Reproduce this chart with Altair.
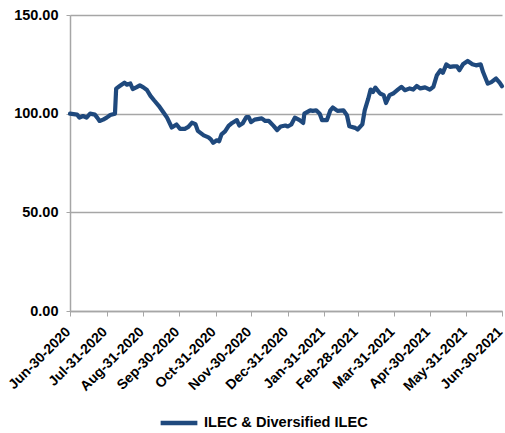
import altair as alt
import pandas as pd

# Index level, read as (days after Jun-30-2020, value)
day_offsets = [0, 6, 8, 11, 14, 17, 21, 23, 25, 28, 31, 34, 38, 39, 42, 46, 48, 51, 53, 56,
               59, 62, 65, 68, 71, 75, 79, 82, 86, 90, 93, 97, 100, 103, 106, 108, 113, 117,
               119, 121, 124, 126, 128, 131, 134, 137, 141, 143, 146, 149, 151, 153, 156, 162,
               165, 168, 172, 175, 178, 182, 184, 187, 190, 194, 197, 198, 203, 205, 208, 211,
               213, 217, 220, 222, 226, 231, 234, 236, 241, 243, 247, 249, 252, 254, 256, 258,
               262, 265, 267, 270, 273, 277, 280, 283, 287, 290, 293, 296, 300, 304, 307, 310,
               313, 315, 318, 321, 324, 327, 329, 332, 336, 340, 343, 347, 349, 353, 356, 360,
               363, 365]
index_values = [100.0, 99.5, 98.0, 98.8, 98.0, 100.0, 99.5, 98.0, 96.3, 97.0, 98.0, 99.3, 100.0,
                112.7, 114.0, 115.7, 114.7, 115.3, 112.5, 113.3, 114.3, 113.3, 112.0, 109.0,
                106.8, 104.0, 100.6, 98.0, 93.0, 94.5, 92.3, 92.3, 93.3, 95.4, 94.7, 91.3, 89.0,
                88.0, 87.0, 85.2, 86.5, 86.0, 89.5, 91.0, 93.8, 95.3, 96.7, 94.0, 95.2, 98.3,
                98.3, 95.7, 97.0, 97.6, 96.3, 96.3, 93.8, 91.7, 93.5, 94.0, 93.5, 94.5, 98.0,
                96.7, 95.3, 100.0, 101.7, 101.4, 101.7, 100.0, 96.7, 96.7, 101.7, 103.1, 101.4,
                101.7, 99.2, 93.6, 92.8, 92.0, 94.6, 101.7, 107.6, 112.2, 111.0, 113.2, 110.2,
                109.4, 105.4, 109.4, 110.2, 112.2, 113.6, 111.9, 112.8, 112.2, 114.0, 112.8,
                113.3, 112.2, 113.6, 119.5, 122.0, 120.7, 125.0, 123.7, 124.0, 124.0, 122.0,
                125.0, 126.7, 125.0, 124.5, 125.0, 121.1, 115.2, 116.0, 117.8, 115.7, 113.9]
series_name = "ILEC & Diversified ILEC"
tick_dates = ["2020-06-30", "2020-07-31", "2020-08-31", "2020-09-30", "2020-10-31",
              "2020-11-30", "2020-12-31", "2021-01-31", "2021-02-28", "2021-03-31",
              "2021-04-30", "2021-05-31", "2021-06-30"]
y_ticks = [0, 50, 100, 150]

start = pd.Timestamp("2020-06-30")
df = pd.DataFrame({
    "date": [(start + pd.Timedelta(days=d)).strftime("%Y-%m-%d") for d in day_offsets],
    "value": index_values,
    "series": series_name,
})


def utc_dt(s):
    t = pd.Timestamp(s)
    return alt.DateTime(year=t.year, month=t.month, date=t.day, utc=True)


FONT = "Liberation Sans"
GRID = "#a6a6a6"

chart = alt.Chart(df).mark_line(strokeWidth=4.2, strokeJoin="round", strokeCap="round").encode(
    x=alt.X(
        "date:T",
        scale=alt.Scale(type="utc", domain=[utc_dt(tick_dates[0]), utc_dt(tick_dates[-1])], nice=False),
        axis=alt.Axis(
            title=None,
            values=[utc_dt(s) for s in tick_dates],
            labelExpr="utcFormat(datum.value, '%b-%d-%Y')",
            labelAngle=-45,
            labelAlign="right",
            labelBaseline="top",
            labelFont=FONT,
            labelFontWeight="bold",
            labelFontSize=14,
            labelColor="#000000",
            labelPadding=8.5,
            labelOffset=-7,
            labelOverlap=False,
            labelBound=False,
            labelFlush=False,
            tickSize=5,
            tickColor=GRID,
            domainColor=GRID,
            domainWidth=1.5,
            grid=False,
        ),
    ),
    y=alt.Y(
        "value:Q",
        scale=alt.Scale(domain=[0, 150], nice=False),
        axis=alt.Axis(
            title=None,
            values=y_ticks,
            format=".2f",
            labelFont=FONT,
            labelFontWeight="bold",
            labelFontSize=14.5,
            labelColor="#000000",
            labelPadding=8,
            tickSize=4,
            tickColor=GRID,
            domainColor=GRID,
            domainWidth=1.5,
            grid=True,
            gridColor=GRID,
            gridWidth=1.3,
        ),
    ),
    color=alt.Color(
        "series:N",
        scale=alt.Scale(range=["#1F497D"]),
        legend=alt.Legend(
            title=None,
            orient="none",
            legendX=88,
            legendY=387,
            symbolType="stroke",
            symbolStrokeWidth=4.5,
            symbolSize=1350,
            labelFont=FONT,
            labelFontWeight="bold",
            labelFontSize=14.6,
            labelColor="#000000",
            labelLimit=0,
            padding=0,
        ),
    ),
).properties(
    width=432,
    height=296,
    padding={"left": 70, "top": 15, "right": 3, "bottom": 122},
    autosize=alt.AutoSizeParams(type="none"),
).configure_view(stroke=None)

chart.save("out.html", embed_options={"renderer": "svg", "actions": False})
